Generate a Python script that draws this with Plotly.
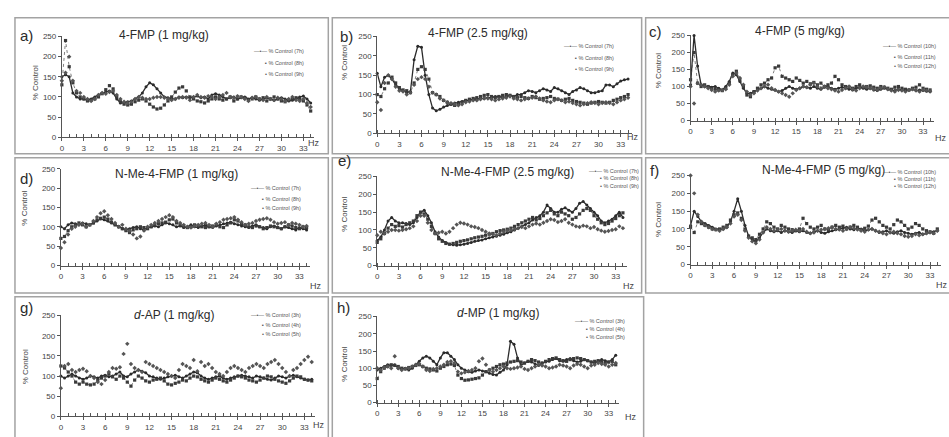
import plotly.graph_objects as go

# Frequency bins (Hz) of the EEG power spectra, 0.5 Hz resolution
FREQ_HZ = [round(0.5 * i, 1) for i in range(69)]
X_TICKS = [0, 3, 6, 9, 12, 15, 18, 21, 24, 27, 30, 33]
Y_TICKS = [0, 50, 100, 150, 200, 250]

# ---- a) 4-FMP (1 mg/kg) ----
A_7H = [150,155,150,110,100,95,95,92,95,100, 105,110,112,115,110,95,85,85,88,90,
        95,100,110,125,135,130,120,110,100,98, 95,95,100,98,100,98,100,102,98,100,
        95,105,108,105,100,95,98,100,95,98, 100,95,98,95,92,95,98,95,92,95,
        98,95,90,92,95,100,102,95,85]
A_8H = [130,240,175,135,110,100,95,90,92,95, 100,108,118,128,120,100,88,82,80,82,
        88,92,95,90,82,75,70,72,80,90, 100,112,122,125,115,100,95,90,88,85,
        90,95,100,95,92,95,100,90,95,100, 98,92,95,100,95,98,90,95,100,95,
        90,88,92,95,98,95,90,80,65]
A_9H = [140,160,200,140,115,110,100,95,90,95, 105,110,108,112,115,105,95,88,85,88,
        95,100,98,95,95,98,100,100,98,95, 92,95,98,100,98,92,100,105,100,98,
        102,100,95,100,105,110,100,98,102,100, 95,90,98,100,95,92,100,95,92,98,
        95,90,95,100,92,90,95,85,75]

# ---- b) 4-FMP (2.5 mg/kg) ----
B_7H = [155,120,145,150,140,125,115,110,105,108, 190,225,222,150,100,65,58,62,68,72,
        75,78,80,82,85,85,88,88,90,90, 92,92,95,95,92,95,98,95,100,100,
        105,110,108,105,110,115,112,108,118,115, 110,105,100,108,112,118,115,110,105,105,
        108,110,125,125,120,128,135,138,140]
B_8H = [100,95,115,130,145,130,118,112,110,105, 130,165,172,165,140,105,100,95,85,80,
        75,72,75,80,85,88,90,92,95,98, 100,95,92,95,98,100,98,95,92,95,
        92,90,95,92,88,90,92,95,90,88, 85,88,90,85,82,80,78,75,78,80,
        82,80,78,80,85,88,92,95,100]
B_9H = [80,60,130,150,140,120,110,108,100,105, 125,140,145,140,120,105,100,90,85,80,
        78,75,72,75,80,82,85,85,88,90, 90,88,85,88,90,92,95,90,88,85,
        88,90,92,95,90,85,82,80,85,88, 85,80,82,78,75,72,75,78,80,78,
        75,78,80,78,75,80,85,88,92]

# ---- c) 4-FMP (5 mg/kg) ----
C_10H = [105,250,160,105,100,100,98,100,95,90, 100,115,140,135,115,95,80,80,85,90,
         95,100,95,92,90,85,88,95,100,95, 92,95,100,98,95,100,95,92,98,100,
         95,92,95,98,95,92,90,95,98,95, 92,95,90,88,92,95,92,90,88,92,
         90,88,90,92,88,90,88,86,85]
C_11H = [120,200,110,100,105,100,95,92,90,88, 95,110,135,145,120,100,75,70,85,95,
         105,110,120,125,155,160,130,125,120,115, 125,118,110,115,108,112,105,110,100,105,
         110,130,120,105,100,98,95,100,105,98, 100,102,98,95,100,98,95,92,98,100,
         95,92,90,95,98,105,95,92,90]
C_12H = [100,50,110,105,100,95,90,85,88,90, 92,105,130,140,125,105,85,75,80,88,
         95,100,105,95,90,85,80,75,70,80, 90,95,100,98,105,110,100,95,100,95,
         92,88,85,90,95,100,92,88,95,100, 98,95,92,90,95,98,92,88,85,90,
         88,85,90,92,88,85,90,88,86]

# ---- d) N-Me-4-FMP (1 mg/kg) ----
D_7H = [100,95,105,110,108,105,110,108,105,110, 115,120,118,115,110,105,100,95,92,95,
        98,100,95,92,98,100,102,100,105,110, 108,105,100,102,98,100,105,100,98,102,
        105,100,98,102,105,108,110,112,108,105, 102,100,98,102,105,100,98,95,100,102,
        98,95,100,98,95,92,98,95,92]
D_8H = [70,75,90,100,105,110,105,100,105,110, 118,122,125,120,112,105,100,95,90,85,
        92,95,100,98,95,100,105,108,110,112, 118,120,110,105,100,98,100,105,102,100,
        98,100,102,105,100,98,105,110,118,115, 108,105,100,98,102,100,95,98,102,100,
        98,95,100,105,102,98,95,100,98]
D_9H = [45,60,80,95,100,105,108,100,105,115, 125,135,140,130,120,110,100,105,95,90,
        80,70,75,90,100,105,110,115,120,125, 130,125,115,110,105,100,98,102,105,108,
        110,105,100,108,112,118,120,122,125,118, 112,105,108,110,115,118,120,122,118,112,
        108,110,112,105,110,108,105,100,102]

# ---- e) N-Me-4-FMP (2.5 mg/kg) ----
E_7H = [70,80,100,125,135,125,120,120,118,115, 120,135,150,155,140,120,95,80,70,65,
        60,58,57,58,60,62,65,68,70,72, 75,78,80,82,85,88,92,95,100,105,
        110,115,120,128,135,140,150,170,160,150, 150,158,162,155,150,160,175,180,170,160,
        150,140,125,120,125,130,140,150,135]
E_8H = [65,75,90,105,115,110,112,108,115,120, 125,140,150,145,130,110,90,75,68,62,
        60,62,65,68,70,72,75,78,80,82, 85,88,90,95,98,100,102,105,110,115,
        120,125,130,135,128,132,140,148,155,145, 140,150,145,140,130,135,145,155,160,155,
        140,130,120,115,118,125,132,140,148]
E_9H = [85,95,90,95,100,100,98,100,102,105, 110,125,140,140,120,100,90,92,95,90,
        95,105,115,120,118,115,110,108,105,100, 95,90,88,85,90,95,98,100,102,105,
        108,105,110,115,118,115,120,125,130,128, 122,125,130,120,115,110,108,112,110,105,
        108,102,98,95,97,100,102,110,105]

# ---- f) N-Me-4-FMP (5 mg/kg) ----
F_10H = [110,150,135,120,115,110,105,100,98,100, 105,120,150,185,150,110,80,70,65,75,
         90,100,95,92,95,90,95,92,90,95, 92,95,90,88,92,95,90,88,92,95,
         98,100,102,105,100,98,102,100,95,98, 100,95,90,92,95,90,88,92,95,90,
         88,85,88,90,85,88,90,92,95]
F_11H = [105,90,120,115,110,105,100,98,100,105, 110,125,140,145,130,100,80,75,70,85,
         100,120,115,105,100,110,105,100,98,95, 100,130,115,105,100,105,110,100,98,105,
         110,105,108,100,105,110,105,98,102,108, 125,130,120,110,105,100,112,125,120,110,
         100,105,115,110,100,95,92,88,100]
F_12H = [250,200,140,120,110,105,100,98,95,100, 105,115,135,140,125,95,75,65,60,70,
         90,105,100,95,98,100,95,92,95,98, 95,100,92,88,90,95,98,100,102,105,
         100,98,95,100,105,102,98,95,92,98, 100,95,92,88,85,90,92,88,85,80,
         78,80,85,82,85,88,90,88,95]

# ---- g) d-AP (1 mg/kg) ----
G_3H = [100,95,100,105,100,95,92,95,100,98, 95,100,102,98,100,105,110,100,98,105,
        110,115,112,108,100,98,95,92,95,98, 100,102,98,95,100,105,110,108,100,95,
        92,95,98,100,95,92,95,98,100,102, 100,98,95,100,98,95,92,90,95,100,
        98,95,100,102,98,95,92,90,92]
G_4H = [125,120,110,100,85,80,85,80,78,80, 90,95,100,105,98,92,100,95,85,75,
        90,100,95,88,85,90,92,95,88,80, 78,82,85,90,88,95,100,98,92,88,
        85,90,95,92,88,85,90,95,100,98, 95,90,88,85,90,95,100,98,92,88,
        85,82,88,95,100,98,92,90,88]
G_5H = [70,125,130,115,110,115,118,112,100,95, 85,80,90,110,120,118,122,155,180,130,
        120,115,110,135,130,125,120,115,110,105, 100,95,115,130,125,120,140,112,135,125,
        130,120,110,105,100,110,120,125,120,115, 110,120,125,130,125,120,130,135,140,130,
        120,110,100,115,120,130,140,148,135]

# ---- h) d-MP (1 mg/kg) ----
H_3H = [95,100,105,110,108,110,100,98,100,95, 100,110,120,130,135,130,120,110,130,145,
        145,135,125,110,100,95,90,88,92,95, 92,90,85,82,80,88,95,110,178,170,
        130,110,115,120,118,112,108,115,118,120, 125,128,122,120,125,128,122,118,120,125,
        122,118,115,120,125,122,118,125,138]
H_4H = [70,90,100,105,110,108,105,100,98,102, 105,108,110,105,100,98,95,92,100,105,
        110,112,108,80,70,65,66,68,70,72, 80,90,95,100,105,110,112,115,118,120,
        122,118,115,120,125,122,118,115,120,125, 128,130,125,122,120,125,128,130,128,125,
        122,118,120,122,118,115,118,120,110]
H_5H = [100,95,102,105,100,135,100,95,98,100, 105,110,112,105,95,92,98,100,105,110,
        118,120,115,90,85,88,92,95,100,120, 128,110,95,90,95,100,105,100,98,100,
        102,105,98,95,100,105,110,108,105,100, 102,105,110,108,105,100,108,112,110,105,
        100,108,110,115,112,110,105,110,115]

PANELS = [
    ("a)", "4-FMP (1 mg/kg)", [A_7H, A_8H, A_9H], ["7h", "8h", "9h"]),
    ("b)", "4-FMP (2.5 mg/kg)", [B_7H, B_8H, B_9H], ["7h", "8h", "9h"]),
    ("c)", "4-FMP (5 mg/kg)", [C_10H, C_11H, C_12H], ["10h", "11h", "12h"]),
    ("d)", "N-Me-4-FMP (1 mg/kg)", [D_7H, D_8H, D_9H], ["7h", "8h", "9h"]),
    ("e)", "N-Me-4-FMP (2.5 mg/kg)", [E_7H, E_8H, E_9H], ["7h", "8h", "9h"]),
    ("f)", "N-Me-4-FMP (5 mg/kg)", [F_10H, F_11H, F_12H], ["10h", "11h", "12h"]),
    ("g)", "<i>d</i>-AP (1 mg/kg)", [G_3H, G_4H, G_5H], ["3h", "4h", "5h"]),
    ("h)", "<i>d</i>-MP (1 mg/kg)", [H_3H, H_4H, H_5H], ["3h", "4h", "5h"]),
]

# ---- page geometry (pixels) ----
W, H = 949, 437
# plot area: x pixel of 0 Hz, x pixel of 33 Hz, y pixel of 0 %, y pixel of 250 %
AREAS = [
    (60, 302, 136, 33), (376, 620, 132, 33), (690, 923, 119, 32),
    (59, 298, 267, 168), (376, 615, 267, 176), (690, 930, 266, 175),
    (59, 303, 421, 318), (376, 608, 407, 319),
]
# panel frames (x0, y0, x1, y1)
FRAMES = [
    (13, 14, 327, 153), (331, 14, 641, 153), (645, 14, 951, 153),
    (13, 157, 327, 295), (331, 157, 641, 295), (645, 157, 951, 295),
    (13, 299, 327, 445), (331, 299, 643, 445),
]
LETTER_POS = [(25, 32), (345, 33), (655, 28), (25, 178), (343, 160), (654, 170), (25, 310), (342, 310)]
TITLE_POS = [(162, 32), (477, 30), (800, 28), (175, 174), (507, 172), (823, 170), (173, 318), (497, 316)]
YLABEL_POS = [(33, 80), (343, 60), (658, 68), (23, 208), (343, 215), (658, 220), (23, 370), (343, 368)]
LEGEND_POS = [  # right edge x, row y's
    (305, (48, 60, 71)), (615, (43, 55, 66)), (938, (43, 54, 63)),
    (302, (188, 199, 208)), (640, (171, 178, 186)), (938, (172, 179, 186)),
    (302, (318, 328, 337)), (626, (324, 332, 340)),
]
HZ_POS = [(313, 142), (632, 136), (941, 137), (315, 288), (628, 288), (942, 287), (318, 430), (630, 422)]

X_MAX = 34.5
FONT = "Liberation Sans, Arial, sans-serif"
INK = "#2b2b2b"


def fx(px):
    return px / W


def fy(py):
    return 1 - py / H


def label(text, px, py, size, color="#444", xanchor="center", **extra):
    return dict(text=text, x=fx(px), y=fy(py), xref="paper", yref="paper",
                xanchor=xanchor, yanchor="middle", showarrow=False,
                font=dict(size=size, color=color, family=FONT), **extra)


STYLES = [
    dict(mode="lines+markers", line=dict(color=INK, width=1.3),
         marker=dict(symbol="circle", size=3, color=INK)),
    dict(mode="lines+markers", line=dict(color="#4a4a4a", width=0.7, dash="dot"),
         marker=dict(symbol="square", size=3.2, color="#3a3a3a")),
    dict(mode="markers",
         marker=dict(symbol="diamond", size=3.4, color="#555555")),
]
LEGEND_GLYPH = ["—•—", "▪", "•"]

fig = go.Figure()
annotations = []
shapes = []
layout_axes = {}

for k, (letter, title, series, hours) in enumerate(PANELS):
    n = k + 1
    xa = "x" if n == 1 else f"x{n}"
    ya = "y" if n == 1 else f"y{n}"
    x0, x33, y0, y250 = AREAS[k]
    scale = (x33 - x0) / 33.0
    x_end = x0 + X_MAX * scale

    for vals, style, hr in zip(series, STYLES, hours):
        fig.add_trace(go.Scatter(
            x=FREQ_HZ[:len(vals)], y=vals, xaxis=xa, yaxis=ya,
            name=f"% Control ({hr})", showlegend=False, cliponaxis=False,
            hoverinfo="x+y+name", **style))

    layout_axes["xaxis" if n == 1 else f"xaxis{n}"] = dict(
        domain=[fx(x0), fx(x_end)], range=[0, X_MAX], anchor=ya,
        tickvals=X_TICKS, ticks="outside", ticklen=3, tickwidth=1, tickcolor="#555",
        minor=dict(dtick=1, tick0=0, ticks="inside", ticklen=3, tickcolor="#555", tickwidth=1),
        showline=True, linecolor="#555", linewidth=1, showgrid=False, zeroline=False,
        tickfont=dict(size=8, color="#444", family=FONT), fixedrange=True)
    layout_axes["yaxis" if n == 1 else f"yaxis{n}"] = dict(
        domain=[fy(y0), fy(y250)], range=[0, 250.5], anchor=xa,
        tickvals=Y_TICKS, ticks="outside", ticklen=3, tickwidth=1, tickcolor="#555",
        showline=True, linecolor="#555", linewidth=1, showgrid=False, zeroline=False,
        tickfont=dict(size=8, color="#444", family=FONT), fixedrange=True)

    fx0, fy0, fx1, fy1 = FRAMES[k]
    shapes.append(dict(type="rect", xref="paper", yref="paper",
                       x0=fx(fx0), x1=fx(fx1), y0=fy(fy1), y1=fy(fy0),
                       line=dict(color="#a3a3a3", width=1.5), layer="below"))

    lx, ly = LETTER_POS[k]
    annotations.append(label(letter, lx, ly, 15, color=INK))
    tx, ty = TITLE_POS[k]
    annotations.append(label(title, tx, ty, 12, color=INK))
    vx, vy = YLABEL_POS[k]
    annotations.append(label("% Control", vx, vy, 8, textangle=-90))
    hx, hy = HZ_POS[k]
    annotations.append(label("Hz", hx, hy, 9))
    rx, rows = LEGEND_POS[k]
    for glyph, hr, ry in zip(LEGEND_GLYPH, hours, rows):
        annotations.append(label(f"{glyph} % Control ({hr})", rx, ry, 5.5,
                                 color="#555", xanchor="right"))

fig.update_layout(
    width=W, height=H, margin=dict(l=0, r=0, t=0, b=0),
    paper_bgcolor="white", plot_bgcolor="white",
    annotations=annotations, shapes=shapes, **layout_axes)

fig.write_html("out.html")
